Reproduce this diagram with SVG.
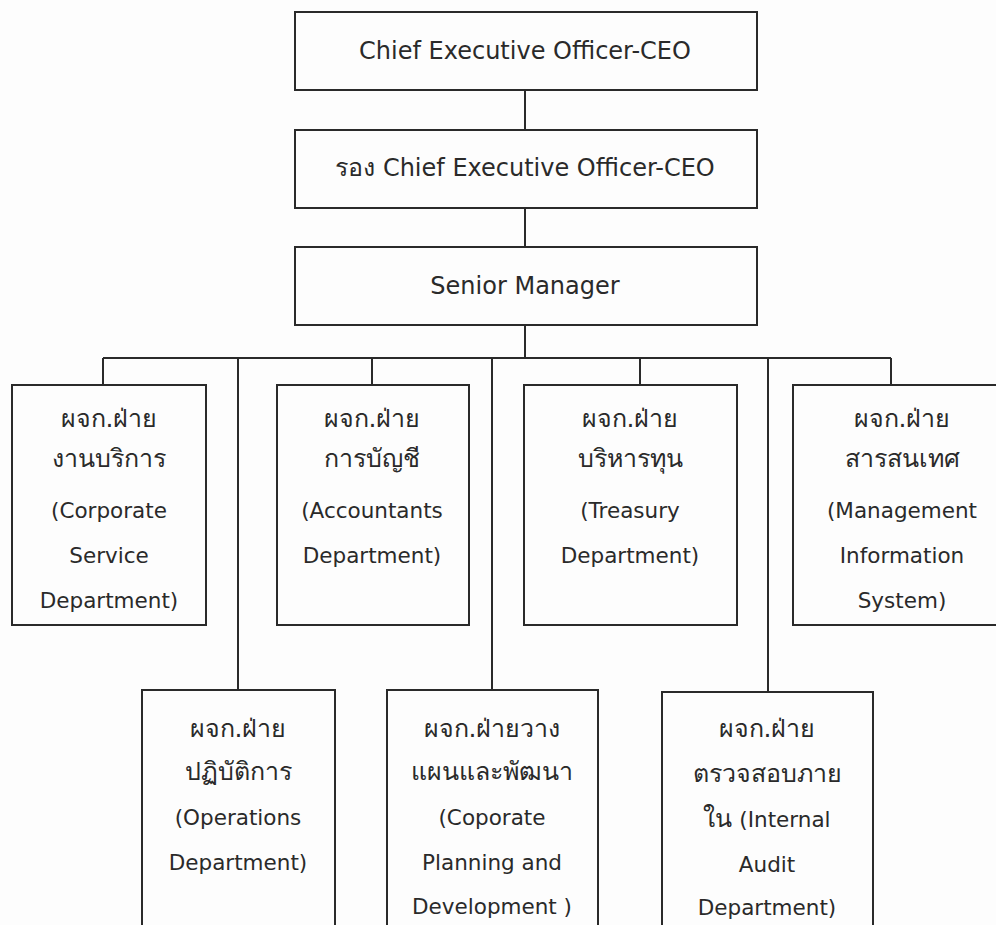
<svg xmlns="http://www.w3.org/2000/svg" width="996" height="925" viewBox="0 0 996 925">
<style>
.bg{fill:#fdfdfd}
.box{fill:none;stroke:#2a2a2a;stroke-width:2}
.con{fill:none;stroke:#2a2a2a;stroke-width:2}
text{font-family:"DejaVu Sans","Noto Sans",sans-serif;fill:#2a2a2a;text-anchor:middle}
.t1{font-size:24px}
.t2{font-size:21.5px}
.th{font-size:25px}
</style>
<rect class="bg" x="0" y="0" width="996" height="925"/>
<g id="connectors">
<line class="con" x1="525" y1="90" x2="525" y2="130"/>
<line class="con" x1="525" y1="208" x2="525" y2="247"/>
<line class="con" x1="525" y1="325" x2="525" y2="358"/>
<line class="con" x1="103" y1="358" x2="891" y2="358"/>
<line class="con" x1="103" y1="358" x2="103" y2="385"/>
<line class="con" x1="372" y1="358" x2="372" y2="385"/>
<line class="con" x1="640" y1="358" x2="640" y2="385"/>
<line class="con" x1="891" y1="358" x2="891" y2="385"/>
<line class="con" x1="238" y1="358" x2="238" y2="690"/>
<line class="con" x1="492" y1="358" x2="492" y2="690"/>
<line class="con" x1="768" y1="358" x2="768" y2="692"/>
</g>
<g id="ceo">
<rect class="box" x="295" y="12" width="462" height="78"/>
<text class="t1" x="525" y="59">Chief Executive Officer-CEO</text>
</g>
<g id="deputy-ceo">
<rect class="box" x="295" y="130" width="462" height="78"/>
<text class="t1" x="525" y="176"><tspan class="th">รอง</tspan> Chief Executive Officer-CEO</text>
</g>
<g id="senior-manager">
<rect class="box" x="295" y="247" width="462" height="78"/>
<text class="t1" x="525" y="294">Senior Manager</text>
</g>
<g id="corporate-service">
<rect class="box" x="12" y="385" width="194" height="240"/>
<text class="th" x="109" y="427">ผจก.ฝ่าย</text>
<text class="th" x="109" y="467">งานบริการ</text>
<text class="t2" x="109" y="518">(Corporate</text>
<text class="t2" x="109" y="563">Service</text>
<text class="t2" x="109" y="608">Department)</text>
</g>
<g id="accountants">
<rect class="box" x="277" y="385" width="192" height="240"/>
<text class="th" x="372" y="427">ผจก.ฝ่าย</text>
<text class="th" x="372" y="467">การบัญชี</text>
<text class="t2" x="372" y="518">(Accountants</text>
<text class="t2" x="372" y="563">Department)</text>
</g>
<g id="treasury">
<rect class="box" x="524" y="385" width="213" height="240"/>
<text class="th" x="630" y="427">ผจก.ฝ่าย</text>
<text class="th" x="630" y="467">บริหารทุน</text>
<text class="t2" x="630" y="518">(Treasury</text>
<text class="t2" x="630" y="563">Department)</text>
</g>
<g id="mis">
<rect class="box" x="793" y="385" width="220" height="240"/>
<text class="th" x="902" y="427">ผจก.ฝ่าย</text>
<text class="th" x="902" y="467">สารสนเทศ</text>
<text class="t2" x="902" y="518">(Management</text>
<text class="t2" x="902" y="563">Information</text>
<text class="t2" x="902" y="608">System)</text>
</g>
<g id="operations">
<rect class="box" x="142" y="690" width="193" height="260"/>
<text class="th" x="238" y="737">ผจก.ฝ่าย</text>
<text class="th" x="238" y="780">ปฏิบัติการ</text>
<text class="t2" x="238" y="825">(Operations</text>
<text class="t2" x="238" y="870">Department)</text>
</g>
<g id="planning">
<rect class="box" x="387" y="690" width="211" height="260"/>
<text class="th" x="492" y="737">ผจก.ฝ่ายวาง</text>
<text class="th" x="492" y="780">แผนและพัฒนา</text>
<text class="t2" x="492" y="825">(Coporate</text>
<text class="t2" x="492" y="870">Planning and</text>
<text class="t2" x="492" y="914">Development )</text>
</g>
<g id="internal-audit">
<rect class="box" x="662" y="692" width="211" height="260"/>
<text class="th" x="767" y="737">ผจก.ฝ่าย</text>
<text class="th" x="767" y="782">ตรวจสอบภาย</text>
<text class="t2" x="767" y="827"><tspan class="th">ใน</tspan> (Internal</text>
<text class="t2" x="767" y="872">Audit</text>
<text class="t2" x="767" y="915">Department)</text>
</g>
</svg>
